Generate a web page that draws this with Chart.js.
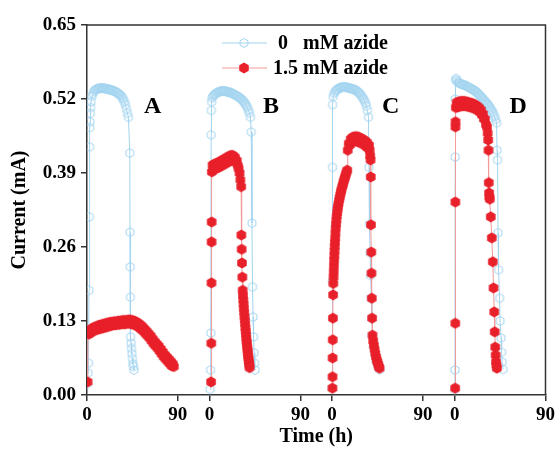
<!DOCTYPE html>
<html>
<head>
<meta charset="utf-8">
<script src="https://cdn.jsdelivr.net/npm/chart.js@4.4.1/dist/chart.umd.min.js"></script>
<style>
  body { margin: 0; background: #fff; }
  #wrap { width: 558px; height: 453px; }
</style>
</head>
<body>
<div id="wrap"><canvas id="chart" width="558" height="453"></canvas></div>
<script>
// four runs (A-D) sit side by side on one time axis, each starting at 0 h
const panels = ["A", "B", "C", "D"];
const panelShift = 121.4;
const xTickHours = [0, 90];
const yTicks = [0, 0.13, 0.26, 0.39, 0.52, 0.65];

// 0 mM azide
const tCtrlA = [0.5, 1, 1.5, 2, 2.3, 2.6, 2.8, 3, 3.3, 3.6, 4, 5, 6, 7, 8, 9, 10, 11, 12, 13, 14, 15, 16, 17, 18, 19, 20, 21, 22, 23, 24, 25, 26, 27, 28, 29, 30, 31, 32, 33, 34, 35, 36, 37, 38, 39, 40, 41, 42.4, 42.6, 42.8, 43, 43.2, 43.6, 44, 44.5, 45, 45.5, 46, 46.5];
const iCtrlA = [0.02, 0.039, 0.056, 0.184, 0.313, 0.436, 0.47, 0.48, 0.495, 0.505, 0.515, 0.525, 0.53, 0.534, 0.536, 0.537, 0.538, 0.538, 0.539, 0.539, 0.539, 0.539, 0.539, 0.539, 0.538, 0.538, 0.538, 0.537, 0.537, 0.536, 0.536, 0.535, 0.535, 0.534, 0.533, 0.532, 0.531, 0.53, 0.528, 0.527, 0.525, 0.522, 0.519, 0.515, 0.51, 0.503, 0.495, 0.488, 0.425, 0.286, 0.225, 0.172, 0.102, 0.091, 0.082, 0.073, 0.064, 0.055, 0.05, 0.044];
const tCtrlB = [0.5, 1, 1.3, 1.6, 1.8, 2, 2.5, 3.5, 4.5, 5.5, 6.5, 7.5, 8.5, 9.5, 10.5, 11.5, 12.5, 13.5, 14.5, 15.5, 16.5, 17.5, 18.5, 19.5, 20.5, 21.5, 22.5, 23.5, 24.5, 25.5, 26.5, 27.5, 28.5, 29.5, 30.5, 31.5, 32.5, 33.5, 34.5, 35.5, 36.5, 37.5, 38.5, 39.5, 40.5, 41.3, 42, 42.6, 43.1, 43.6, 44.1, 44.6, 45];
const iCtrlB = [0.01, 0.044, 0.109, 0.457, 0.5, 0.515, 0.522, 0.525, 0.527, 0.529, 0.53, 0.531, 0.532, 0.533, 0.533, 0.534, 0.534, 0.534, 0.534, 0.534, 0.533, 0.533, 0.532, 0.532, 0.531, 0.531, 0.53, 0.529, 0.528, 0.527, 0.526, 0.525, 0.524, 0.523, 0.521, 0.52, 0.518, 0.516, 0.514, 0.511, 0.508, 0.505, 0.5, 0.495, 0.488, 0.462, 0.302, 0.19, 0.137, 0.102, 0.074, 0.056, 0.044];
const tCtrlC = [0.2, 0.3, 0.4, 0.5, 1, 2, 3, 4, 5, 6, 7, 8, 9, 10, 11, 12, 13, 14, 15, 16, 17, 18, 19, 20, 21, 22, 23, 24, 25, 26, 27, 28, 29, 30, 31, 32, 33, 34, 35, 36, 36.6, 37, 37.6, 38.2, 38.8, 39.4, 40, 41, 42.5, 44, 45.5, 47];
const iCtrlC = [0.012, 0.2, 0.4, 0.51, 0.524, 0.53, 0.533, 0.535, 0.537, 0.538, 0.539, 0.54, 0.54, 0.541, 0.541, 0.541, 0.541, 0.541, 0.54, 0.54, 0.539, 0.539, 0.538, 0.538, 0.537, 0.537, 0.536, 0.535, 0.533, 0.532, 0.53, 0.528, 0.526, 0.523, 0.52, 0.517, 0.513, 0.508, 0.5, 0.488, 0.4, 0.3, 0.25, 0.21, 0.17, 0.135, 0.105, 0.085, 0.07, 0.058, 0.05, 0.045];
const tCtrlD = [0.2, 0.3, 0.5, 0.7, 1, 1.5, 2.5, 3.5, 4.5, 5.5, 6.5, 7.5, 8.5, 9.5, 10.5, 11.5, 12.5, 13.5, 14.5, 15.5, 16.5, 17.5, 18.5, 19.5, 20.5, 21.5, 22.5, 23.5, 24.5, 25.5, 26.5, 27.5, 28.5, 29.5, 30.5, 31.5, 32.5, 33.5, 34.5, 35.5, 36.5, 37.5, 38.5, 39.5, 40.5, 41.5, 42, 42.5, 43, 43.5, 44.5, 45, 46, 46.5, 47, 48];
const iCtrlD = [0.01, 0.044, 0.418, 0.52, 0.553, 0.556, 0.552, 0.549, 0.548, 0.547, 0.546, 0.546, 0.545, 0.545, 0.544, 0.543, 0.542, 0.541, 0.54, 0.539, 0.538, 0.537, 0.536, 0.535, 0.534, 0.532, 0.531, 0.529, 0.527, 0.525, 0.523, 0.521, 0.519, 0.517, 0.515, 0.513, 0.511, 0.509, 0.506, 0.503, 0.5, 0.497, 0.493, 0.489, 0.484, 0.478, 0.43, 0.413, 0.285, 0.22, 0.17, 0.13, 0.1, 0.075, 0.058, 0.045];

// 1.5 mM azide
const tAzA = [0.6, 1, 2, 3, 4, 5, 6, 7, 8, 9, 10, 11, 12, 13, 14, 15, 16, 17, 18, 19, 20, 21, 22, 23, 24, 25, 26, 27, 28, 29, 30, 31, 32, 33, 34, 35, 36, 37, 38, 39, 40, 41, 42, 43, 44, 45, 46, 47, 48, 49, 50, 51, 52, 53, 54, 55, 56, 57, 58, 59, 60, 61, 62, 63, 64, 65, 66, 67, 68, 69, 70, 71, 72, 73, 74, 75, 76, 77, 78, 79, 80, 81, 82, 83, 84, 85, 86];
const iAzA = [0.023, 0.111, 0.107, 0.114, 0.11, 0.117, 0.112, 0.119, 0.114, 0.12, 0.115, 0.122, 0.116, 0.123, 0.117, 0.124, 0.118, 0.125, 0.119, 0.126, 0.12, 0.127, 0.121, 0.128, 0.122, 0.128, 0.123, 0.129, 0.123, 0.129, 0.124, 0.13, 0.124, 0.13, 0.125, 0.131, 0.125, 0.131, 0.125, 0.131, 0.126, 0.132, 0.126, 0.132, 0.125, 0.131, 0.124, 0.13, 0.123, 0.128, 0.121, 0.126, 0.118, 0.123, 0.115, 0.12, 0.112, 0.116, 0.108, 0.112, 0.104, 0.108, 0.1, 0.104, 0.095, 0.099, 0.09, 0.094, 0.086, 0.09, 0.082, 0.086, 0.077, 0.081, 0.072, 0.076, 0.067, 0.071, 0.063, 0.067, 0.059, 0.063, 0.055, 0.059, 0.051, 0.055, 0.05];
const tAzB = [1.5, 1.7, 1.9, 2, 2.1, 2.3, 3, 4, 5, 6, 7, 8, 9, 10, 11, 12, 13, 14, 15, 16, 17, 18, 19, 20, 21, 22, 23, 24, 25, 26, 27, 28, 28.8, 29.7, 30.5, 31.3, 31.5, 31.8, 32.1, 32.5, 32.8, 33.1, 33.4, 33.7, 34, 34.3, 34.6, 34.9, 35.2, 35.5, 35.8, 36.1, 36.4, 36.7, 37, 37.3, 37.6, 37.9, 38.2, 38.5, 38.8, 39.1, 39.4, 39.6];
const iAzB = [0.023, 0.091, 0.197, 0.269, 0.304, 0.392, 0.404, 0.396, 0.406, 0.398, 0.407, 0.399, 0.409, 0.401, 0.411, 0.403, 0.413, 0.405, 0.415, 0.407, 0.417, 0.409, 0.419, 0.411, 0.421, 0.412, 0.421, 0.412, 0.418, 0.409, 0.412, 0.403, 0.398, 0.39, 0.378, 0.366, 0.281, 0.256, 0.232, 0.207, 0.184, 0.175, 0.167, 0.159, 0.152, 0.145, 0.138, 0.131, 0.125, 0.118, 0.112, 0.106, 0.1, 0.094, 0.089, 0.084, 0.079, 0.074, 0.069, 0.065, 0.06, 0.056, 0.052, 0.048];
const tAzC = [0.3, 0.4, 0.5, 0.6, 0.8, 1, 1.2, 1.4, 1.6, 1.8, 2, 2.2, 2.4, 2.6, 2.8, 3, 3.3, 3.6, 3.9, 4.2, 4.6, 5, 5.4, 5.8, 6.3, 6.9, 7.5, 8.1, 8.7, 9.3, 10, 10.7, 11.4, 12.1, 12.8, 13.5, 14.2, 15, 15.5, 16.5, 17.5, 18.5, 19.5, 20.5, 21.5, 22.5, 23.5, 24.5, 25.5, 26.5, 27.5, 28.5, 29.5, 30.5, 31.5, 32.5, 33.5, 34.5, 35.5, 36.5, 37.2, 37.7, 38.1, 38.3, 38.5, 38.8, 39, 39.3, 39.6, 40, 40.7, 41.4, 42.1, 42.8, 43.5, 44.2, 44.9, 45.6, 46.3, 47];
const iAzC = [0.012, 0.032, 0.065, 0.097, 0.135, 0.176, 0.196, 0.207, 0.217, 0.227, 0.237, 0.245, 0.253, 0.261, 0.268, 0.275, 0.284, 0.293, 0.3, 0.307, 0.314, 0.32, 0.326, 0.331, 0.336, 0.342, 0.347, 0.352, 0.357, 0.361, 0.366, 0.37, 0.375, 0.379, 0.383, 0.387, 0.391, 0.395, 0.43, 0.442, 0.439, 0.45, 0.444, 0.453, 0.446, 0.454, 0.446, 0.454, 0.445, 0.453, 0.444, 0.451, 0.442, 0.449, 0.44, 0.447, 0.437, 0.444, 0.434, 0.439, 0.43, 0.42, 0.413, 0.383, 0.299, 0.251, 0.214, 0.17, 0.135, 0.105, 0.095, 0.087, 0.08, 0.073, 0.067, 0.062, 0.058, 0.054, 0.05, 0.047];
const tAzD = [0.5, 0.6, 0.7, 0.8, 0.9, 1.2, 2, 3, 4, 5, 6, 7, 8, 9, 10, 11, 12, 13, 14, 15, 16, 17, 18, 19, 20, 21, 22, 23, 24, 25, 26, 27, 28, 29, 30, 31, 32, 32.7, 33.2, 33.5, 33.8, 34.1, 34.4, 34.8, 35.8, 36.8, 37.8, 38.5, 39.2, 39.7, 40.2, 40.6, 41, 41.4, 41.8];
const iAzD = [0.012, 0.126, 0.339, 0.471, 0.48, 0.505, 0.514, 0.506, 0.515, 0.507, 0.516, 0.508, 0.516, 0.508, 0.516, 0.508, 0.515, 0.507, 0.514, 0.506, 0.513, 0.505, 0.512, 0.504, 0.51, 0.502, 0.508, 0.5, 0.505, 0.497, 0.501, 0.492, 0.494, 0.485, 0.485, 0.475, 0.471, 0.46, 0.448, 0.43, 0.373, 0.355, 0.348, 0.344, 0.313, 0.276, 0.234, 0.188, 0.146, 0.111, 0.084, 0.07, 0.058, 0.052, 0.047];

const ctrlT = [tCtrlA, tCtrlB, tCtrlC, tCtrlD];
const ctrlI = [iCtrlA, iCtrlB, iCtrlC, iCtrlD];
const azT = [tAzA, tAzB, tAzC, tAzD];
const azI = [iAzA, iAzB, iAzC, iAzD];

function joinPanels(ts, is) {
  const pts = [];
  ts.forEach((t, p) => {
    t.forEach((v, k) => pts.push({ x: v + p * panelShift, y: is[p][k] }));
    pts.push({ x: p * panelShift + 95, y: null }); // break the line between runs
  });
  return pts;
}

function hexagon(r, fill, stroke) {
  const c = document.createElement("canvas");
  const s = Math.ceil(2 * r + 3);
  c.width = c.height = s;
  const g = c.getContext("2d");
  g.beginPath();
  for (let k = 0; k < 6; k++) {
    const a = (Math.PI / 3) * k - Math.PI / 2;
    const px = s / 2 + r * Math.cos(a);
    const py = s / 2 + r * Math.sin(a);
    if (k === 0) g.moveTo(px, py); else g.lineTo(px, py);
  }
  g.closePath();
  if (fill) { g.fillStyle = fill; g.fill(); }
  if (stroke) { g.strokeStyle = stroke; g.lineWidth = 1; g.stroke(); }
  return c;
}

const blue = "#a3d4f0";
const red = "#e8202a";
const openHex = hexagon(4.5, null, blue);
const solidHex = hexagon(5.5, red, null);

const serif = "'Liberation Serif', 'Times New Roman', serif";

const extras = {
  id: "extras",
  afterDatasetsDraw(chart) {
    const { ctx, chartArea: a, scales } = chart;
    ctx.save();
    // frame: top and right edges
    ctx.strokeStyle = "#333";
    ctx.lineWidth = 1.5;
    ctx.beginPath();
    ctx.moveTo(a.left, a.top);
    ctx.lineTo(a.right, a.top);
    ctx.lineTo(a.right, a.bottom);
    ctx.stroke();

    // panel letters
    ctx.fillStyle = "#000";
    ctx.font = "bold 24px " + serif;
    ctx.textAlign = "center";
    ctx.textBaseline = "middle";
    const letterX = [65, 61, 58, 63];
    panels.forEach((p, i) => {
      const x = scales.x.getPixelForValue(i * panelShift + letterX[i]);
      ctx.fillText(p, x, 107);
    });

    // legend
    ctx.font = "bold 20px " + serif;
    ctx.textAlign = "left";
    const rows = [
      { ds: chart.data.datasets[0], y: 43, x: 278 },
      { ds: chart.data.datasets[1], y: 68, x: 273 },
    ];
    rows.forEach(r => {
      ctx.strokeStyle = r.ds.borderColor;
      ctx.lineWidth = 1;
      ctx.beginPath();
      ctx.moveTo(222, r.y);
      ctx.lineTo(267, r.y);
      ctx.stroke();
      const img = r.ds.pointStyle;
      ctx.drawImage(img, 244 - img.width / 2, r.y - img.height / 2);
      ctx.fillText(r.ds.label, r.x, r.y + 1);
    });
    ctx.restore();
  },
};

new Chart(document.getElementById("chart"), {
  type: "line",
  data: {
    datasets: [
      {
        label: "0   mM azide",
        data: joinPanels(ctrlT, ctrlI),
        borderColor: blue,
        borderWidth: 1,
        pointStyle: openHex,
        pointRadius: 4.5,
        order: 2,
      },
      {
        label: "1.5 mM azide",
        data: joinPanels(azT, azI),
        borderColor: "#f29a9a",
        borderWidth: 1,
        pointStyle: solidHex,
        pointRadius: 5.5,
        order: 1,
      },
    ],
  },
  options: {
    responsive: false,
    animation: false,
    events: [],
    layout: { padding: { top: 25, right: 12, bottom: 0, left: 0 } },
    plugins: { legend: { display: false }, tooltip: { enabled: false } },
    scales: {
      x: {
        type: "linear",
        min: 0,
        max: 3 * panelShift + 90,
        afterFit: s => { s.height = 58; },
        afterBuildTicks: s => {
          const ticks = [];
          panels.forEach((p, i) => xTickHours.forEach(h => ticks.push({ value: i * panelShift + h })));
          s.ticks = ticks;
        },
        ticks: {
          autoSkip: false,
          maxRotation: 0,
          padding: 3,
          color: "#000",
          font: { family: serif, size: 19, weight: "bold" },
          callback: v => String(Math.round(v % panelShift)),
        },
        grid: { drawOnChartArea: false, drawTicks: true, tickLength: 6, color: "#333", lineWidth: 1.5 },
        border: { color: "#333", width: 1.5 },
        title: {
          display: true,
          text: "Time (h)",
          color: "#000",
          font: { family: serif, size: 20, weight: "bold" },
          padding: { top: 0, bottom: 4 },
        },
      },
      y: {
        min: 0,
        max: 0.65,
        afterFit: s => { s.width = 87; },
        afterBuildTicks: s => { s.ticks = yTicks.map(v => ({ value: v })); },
        ticks: {
          padding: 5,
          color: "#000",
          font: { family: serif, size: 19, weight: "bold" },
          callback: v => v.toFixed(2),
        },
        grid: { drawOnChartArea: false, drawTicks: true, tickLength: 6, color: "#333", lineWidth: 1.5 },
        border: { color: "#333", width: 1.5 },
        title: {
          display: true,
          text: "Current (mA)",
          color: "#000",
          font: { family: serif, size: 20, weight: "bold" },
          padding: { top: 8, bottom: 0 },
        },
      },
    },
  },
  plugins: [extras],
});
</script>
</body>
</html>
